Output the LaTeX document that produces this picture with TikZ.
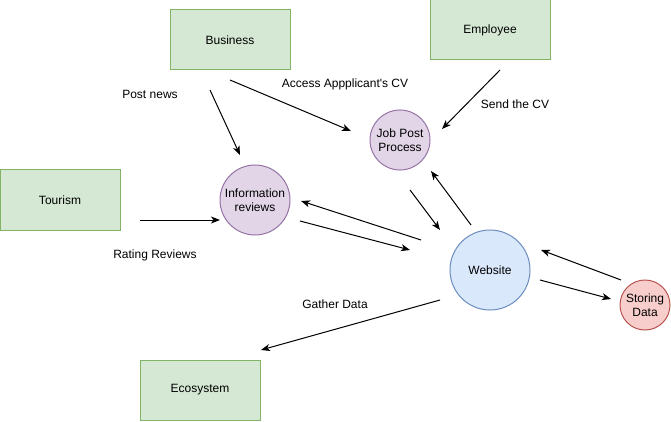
\documentclass[tikz,border=0pt]{standalone}
\usepackage{fontspec}
\setmainfont{Liberation Sans}
\usetikzlibrary{arrows.meta}
\definecolor{gfill}{HTML}{D5E8D4}\definecolor{gline}{HTML}{82B366}
\definecolor{pfill}{HTML}{E1D5E7}\definecolor{pline}{HTML}{9673A6}
\definecolor{bfill}{HTML}{DAE8FC}\definecolor{bline}{HTML}{6C8EBF}
\definecolor{rfill}{HTML}{F8CECC}\definecolor{rline}{HTML}{B85450}
\tikzset{
  every node/.style={font=\fontsize{12}{14.5}\selectfont, text=black},
  entity/.style={draw=gline, fill=gfill, line width=1pt, minimum width=120pt, minimum height=60pt, inner sep=0pt},
  proc/.style={circle, draw=pline, fill=pfill, line width=1pt, inner sep=0pt, align=center},
  web/.style={circle, draw=bline, fill=bfill, line width=1pt, inner sep=0pt, align=center},
  store/.style={circle, draw=rline, fill=rfill, line width=1pt, inner sep=0pt, align=center},
  flow/.style={line width=1pt, -{Stealth[length=9pt,width=7pt,inset=2.5pt]}},
  lbl/.style={inner sep=0pt}
}
\begin{document}
\begin{tikzpicture}[x=1pt,y=-1pt]
\useasboundingbox (0,0) rectangle (671,422);
% nodes
\node[entity] (business) at (230,40) {Business};
\node[entity] (employee) at (490,30) {Employee};
\node[entity] (tourism) at (60,200) {Tourism};
\node[entity] (ecosystem) at (200,390) {Ecosystem};
\node[proc, minimum size=70pt] (info) at (255,200) {Information\\reviews};
\node[proc, minimum size=60pt] (job) at (400,140) {Job Post\\Process};
\node[web, minimum size=80pt] (website) at (490,270) {Website};
\node[store, minimum size=50pt] (storing) at (645,305) {Storing\\Data};
% labels
\node[lbl] (lpost) at (150,94) {Post news};
\node[lbl] (laccess) at (345,84) {Access Appplicant\textquotesingle s CV};
\node[lbl] (lsend) at (515,104) {Send the CV};
\node[lbl] (lrating) at (155,255) {Rating Reviews};
\node[lbl] (lgather) at (335,304) {Gather Data};
% connector end points
\coordinate (b1s) at (210,90);  \coordinate (b1e) at (240,155);
\coordinate (b2s) at (230,80);  \coordinate (b2e) at (351,131);
\coordinate (e1s) at (500,70);  \coordinate (e1e) at (442,129);
\coordinate (t1s) at (140,220); \coordinate (t1e) at (220,220);
\coordinate (w1s) at (421,240); \coordinate (w1e) at (301,201);
\coordinate (i1s) at (300,221); \coordinate (i1e) at (410,250);
\coordinate (j1s) at (410,190); \coordinate (j1e) at (440,230);
\coordinate (w2s) at (471,225); \coordinate (w2e) at (431,171);
\coordinate (s1s) at (621,280); \coordinate (s1e) at (541,250);
\coordinate (w3s) at (540,280); \coordinate (w3e) at (611,299);
\coordinate (w4s) at (440,300); \coordinate (w4e) at (261,350);
% connectors
\draw[flow] (b1s) -- (b1e);
\draw[flow] (b2s) -- (b2e);
\draw[flow] (e1s) -- (e1e);
\draw[flow] (t1s) -- (t1e);
\draw[flow] (w1s) -- (w1e);
\draw[flow] (i1s) -- (i1e);
\draw[flow] (j1s) -- (j1e);
\draw[flow] (w2s) -- (w2e);
\draw[flow] (s1s) -- (s1e);
\draw[flow] (w3s) -- (w3e);
\draw[flow] (w4s) -- (w4e);
\end{tikzpicture}
\end{document}
